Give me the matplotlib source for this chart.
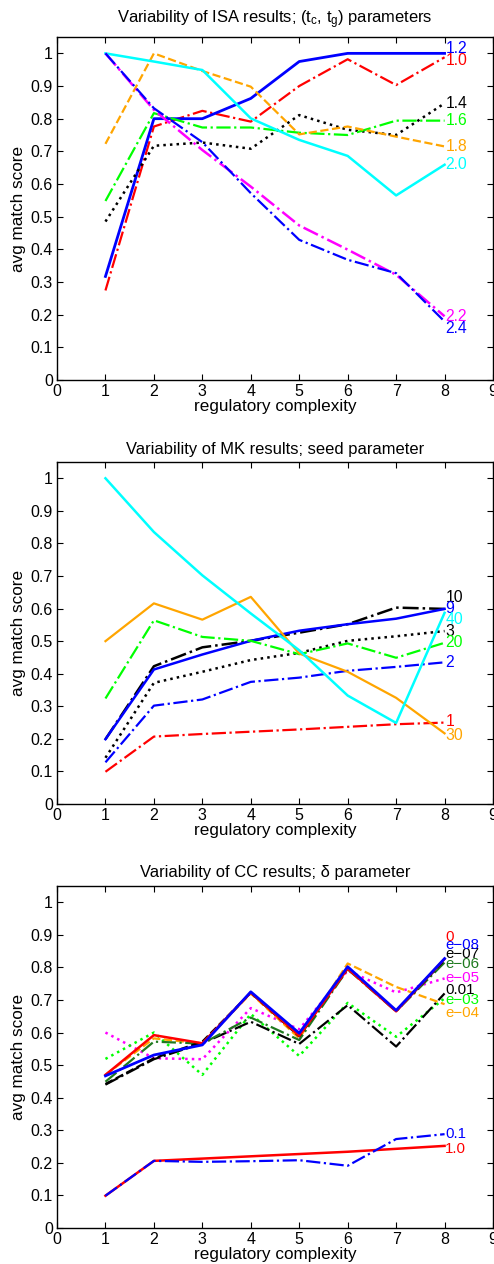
import numpy as np
import matplotlib
matplotlib.use("Agg")
import matplotlib.pyplot as plt

plt.rcParams['font.family'] = ['Liberation Sans', 'DejaVu Sans']
plt.rcParams['mathtext.default'] = 'regular'

complexity = [1, 2, 3, 4, 5, 6, 7, 8]

# ISA, (tc, tg) parameter
isa_names = ["1.0", "1.2", "1.4", "1.6", "1.8", "2.0", "2.2", "2.4"]
isa_10 = [0.274, 0.776, 0.824, 0.791, 0.900, 0.982, 0.903, 0.988]
isa_12 = [0.317, 0.800, 0.800, 0.862, 0.975, 1.000, 1.000, 1.000]
isa_14 = [0.485, 0.717, 0.727, 0.708, 0.811, 0.766, 0.750, 0.847]
isa_16 = [0.548, 0.817, 0.773, 0.773, 0.757, 0.750, 0.794, 0.794]
isa_18 = [0.723, 1.000, 0.946, 0.898, 0.752, 0.776, 0.745, 0.715]
isa_20 = [1.000, 0.975, 0.949, 0.801, 0.735, 0.686, 0.565, 0.659]
isa_22 = [1.000, 0.827, 0.704, 0.592, 0.473, 0.399, 0.322, 0.195]
isa_24 = [1.000, 0.832, 0.728, 0.572, 0.429, 0.368, 0.327, 0.179]

# MK, seed parameter
mk_names = ["1", "2", "3", "9", "10", "20", "30", "40"]
mk_1 = [0.099, 0.207, 0.215, 0.222, 0.229, 0.237, 0.245, 0.250]
mk_2 = [0.128, 0.302, 0.321, 0.375, 0.388, 0.409, 0.421, 0.435]
mk_3 = [0.142, 0.372, 0.406, 0.442, 0.464, 0.501, 0.515, 0.531]
mk_9 = [0.199, 0.413, 0.459, 0.501, 0.532, 0.552, 0.569, 0.599]
mk_10 = [0.199, 0.423, 0.481, 0.501, 0.526, 0.552, 0.603, 0.599]
mk_20 = [0.324, 0.564, 0.513, 0.501, 0.460, 0.493, 0.449, 0.495]
mk_30 = [0.500, 0.616, 0.566, 0.636, 0.462, 0.406, 0.326, 0.217]
mk_40 = [1.000, 0.835, 0.702, 0.585, 0.472, 0.333, 0.249, 0.587]

# CC, delta parameter
cc_names = ["0", "e\u221208", "e\u221207", "e\u221206", "e\u221205",
            "e\u221204", "e\u221203", "0.01", "0.1", "1.0"]
cc_0 = [0.470, 0.592, 0.567, 0.723, 0.590, 0.796, 0.665, 0.826]
cc_e08 = [0.467, 0.531, 0.562, 0.725, 0.598, 0.802, 0.668, 0.827]
cc_e07 = [0.442, 0.521, 0.572, 0.722, 0.588, 0.797, 0.666, 0.822]
cc_e06 = [0.449, 0.572, 0.566, 0.646, 0.577, 0.794, 0.665, 0.815]
cc_e05 = [0.600, 0.521, 0.518, 0.675, 0.610, 0.790, 0.723, 0.766]
cc_e04 = [0.470, 0.582, 0.566, 0.720, 0.582, 0.812, 0.740, 0.687]
cc_e03 = [0.519, 0.600, 0.470, 0.657, 0.528, 0.691, 0.587, 0.705]
cc_001 = [0.440, 0.518, 0.567, 0.633, 0.565, 0.684, 0.557, 0.720]
cc_01 = [0.099, 0.206, 0.203, 0.205, 0.208, 0.191, 0.273, 0.288]
cc_10 = [0.099, 0.206, 0.213, 0.220, 0.227, 0.234, 0.243, 0.252]

DKGREEN = '#1f7a1f'
ORANGE = '#ffa500'

# (values, label, colour, linestyle, linewidth, label shift)
isa_lines = [
    (isa_10, isa_names[0], 'red', '-.', 1.6, -0.010),
    (isa_12, isa_names[1], 'blue', '-', 2.0, 0.015),
    (isa_14, isa_names[2], 'black', ':', 1.8, 0.0),
    (isa_16, isa_names[3], 'lime', '-.', 1.6, 0.0),
    (isa_18, isa_names[4], ORANGE, '--', 1.6, 0.0),
    (isa_20, isa_names[5], 'cyan', '-', 1.8, 0.0),
    (isa_22, isa_names[6], 'magenta', '-.', 1.8, 0.0),
    (isa_24, isa_names[7], 'blue', '-.', 1.6, -0.022),
]
mk_lines = [
    (mk_1, mk_names[0], 'red', '-.', 1.6, 0.003),
    (mk_2, mk_names[1], 'blue', '-.', 1.6, 0.0),
    (mk_3, mk_names[2], 'black', ':', 1.8, 0.0),
    (mk_10, mk_names[4], 'black', '-.', 1.8, 0.036),
    (mk_9, mk_names[3], 'blue', '-', 1.8, 0.002),
    (mk_20, mk_names[5], 'lime', '-.', 1.6, 0.0),
    (mk_30, mk_names[6], ORANGE, '-', 1.6, -0.007),
    (mk_40, mk_names[7], 'cyan', '-', 1.8, -0.022),
]
cc_lines = [
    (cc_e05, cc_names[4], 'magenta', ':', 1.8, 0.0),
    (cc_e03, cc_names[6], 'lime', ':', 1.8, -0.005),
    (cc_001, cc_names[7], 'black', '-.', 1.6, 0.010),
    (cc_e04, cc_names[5], ORANGE, '--', 1.6, -0.028),
    (cc_e06, cc_names[3], DKGREEN, '-.', 1.6, -0.006),
    (cc_e07, cc_names[2], 'black', '--', 1.6, 0.019),
    (cc_0, cc_names[0], 'red', '-', 1.8, 0.068),
    (cc_e08, cc_names[1], 'blue', '-', 2.0, 0.042),
    (cc_10, cc_names[9], 'red', '-', 1.8, -0.009),
    (cc_01, cc_names[8], 'blue', '-.', 1.6, 0.001),
]

# title, lines, axes rect, title pad, end-label size
panels = [
    ("Variability of ISA results; (t$_c$, t$_g$) parameters", isa_lines,
     [0.1154, 0.6994, 0.8826, 0.2713], 10, 11.3),
    ("Variability of MK results; seed parameter", mk_lines,
     [0.1154, 0.3639, 0.8826, 0.2706], 6, 11.3),
    ("Variability of CC results; \u03b4 parameter", cc_lines,
     [0.1154, 0.0285, 0.8826, 0.2706], 6.5, 10.8),
]

fig = plt.figure(figsize=(4.94, 12.64), dpi=100)

for title, lines, rect, pad, lsize in panels:
    ax = fig.add_axes(rect)
    for vals, name, color, ls, lw, shift in lines:
        ax.plot(complexity, vals, color=color, linestyle=ls, linewidth=lw)
        ax.annotate(name, xy=(complexity[-1], vals[-1] + shift),
                    xytext=(0.5, 0), textcoords='offset points',
                    color=color, fontsize=lsize, ha='left', va='center')
    ax.set_xlim(0, 9)
    ax.set_ylim(0, 1.05)
    ax.set_xticks(range(10))
    ax.set_yticks(np.arange(11) / 10.0)
    ax.set_yticklabels(["0"] + ["0.%d" % i for i in range(1, 10)] + ["1"])
    ax.tick_params(direction='in', top=True, right=True, length=4,
                   labelsize=11.5, width=0.8, pad=3)
    for s in ax.spines.values():
        s.set_linewidth(1.0)
    ax.set_xlabel("regulatory complexity", fontsize=12.3, labelpad=0)
    ax.set_ylabel("avg match score", fontsize=12.3, labelpad=3)
    ax.set_title(title, fontsize=11.9, pad=pad)

plt.savefig("out.png", dpi=100)
